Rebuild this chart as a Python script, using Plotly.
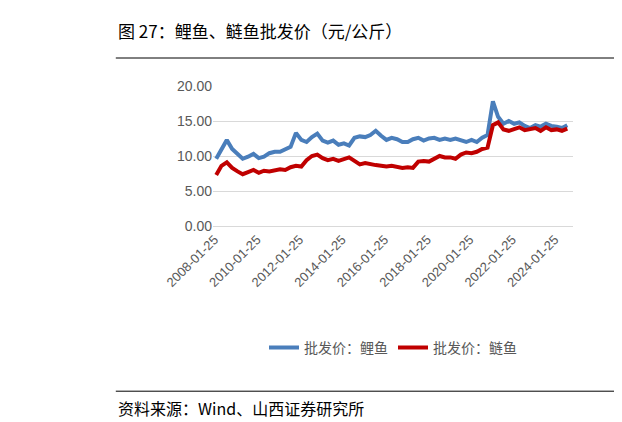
import pandas as pd
import plotly.graph_objects as go

# quarterly samples, 2008Q1 .. 2024Q4
dates = pd.date_range("2008-01-25", "2024-10-25", freq="3MS") + pd.Timedelta(days=24)
carp = [
    9.6, 11.0, 12.3, 11.0,  10.2, 9.6, 9.9, 10.3,  9.7, 9.9, 10.4, 10.6,
    10.6, 10.9, 11.3, 13.3,  12.3, 12.0, 12.7, 13.2,  12.2, 11.9, 12.2, 11.6,
    11.8, 11.5, 12.6, 12.8,  12.7, 13.0, 13.6, 12.9,  12.3, 12.6, 12.4, 12.0,
    12.0, 12.4, 12.6, 12.2,  12.5, 12.6, 12.3, 12.5,  12.3, 12.5, 12.2, 12.0,
    12.3, 12.0, 12.6, 13.0,  17.8, 15.6, 14.6, 15.0,  14.6, 14.8, 14.3, 14.0,
    14.4, 14.2, 14.6, 14.3,  14.2, 14.0, 14.4, 14.6,
]
silver = [
    7.3, 8.6, 9.1, 8.3,  7.8, 7.4, 7.7, 8.0,  7.6, 7.9, 7.8, 8.0,
    8.1, 8.0, 8.4, 8.6,  8.5, 9.4, 10.0, 10.2,  9.7, 9.4, 9.6, 9.3,
    9.6, 9.8, 9.3, 8.8,  9.0, 8.8, 8.7, 8.6,  8.5, 8.6, 8.4, 8.3,
    8.4, 8.3, 9.2, 9.3,  9.2, 9.6, 10.0, 9.8,  9.8, 9.6, 10.2, 10.5,
    10.4, 10.6, 11.0, 11.2,  14.4, 14.8, 13.8, 13.6,  13.8, 14.1, 13.7, 13.9,
    14.0, 13.6, 14.1, 13.7,  13.8, 13.6, 13.9, 14.2,
]
tick_text = ["2008-01-25", "2010-01-25", "2012-01-25", "2014-01-25",
             "2016-01-25", "2018-01-25", "2020-01-25", "2022-01-25", "2024-01-25"]
tick_vals = pd.to_datetime(tick_text)

font = "Noto Sans CJK SC"
fig = go.Figure()
fig.add_trace(go.Scatter(x=dates, y=carp, mode="lines", name="批发价：鲤鱼",
                         line=dict(color="#4a7ebb", width=4)))
fig.add_trace(go.Scatter(x=dates, y=silver, mode="lines", name="批发价：鲢鱼",
                         line=dict(color="#c00000", width=4)))

fig.update_layout(
    width=622, height=422, paper_bgcolor="white", plot_bgcolor="white",
    margin=dict(l=205, r=57, t=78, b=204),
    font=dict(family=font, color="#595959", size=13),
    showlegend=True,
    legend=dict(orientation="h", x=0.5, xanchor="center", y=-0.87, yanchor="middle",
                font=dict(size=14, color="#595959")),
    xaxis=dict(tickvals=tick_vals, ticktext=tick_text, tickangle=-45, automargin=False,
               showgrid=False, showline=True, linecolor="#d9d9d9",
               range=[pd.Timestamp("2008-01-01"), pd.Timestamp("2024-12-01")],
               tickfont=dict(size=13, family="Liberation Sans")),
    yaxis=dict(range=[0, 20], dtick=5, tickformat=".2f", gridcolor="#d9d9d9", automargin=False,
               zeroline=False, tickfont=dict(size=14, family="Liberation Sans")),
)
fig.add_annotation(text="图 27：鲤鱼、鲢鱼批发价（元/公斤）", xref="paper", yref="paper",
                   x=-0.27, y=1.4, xanchor="left", yanchor="middle", showarrow=False,
                   font=dict(family=font, size=17, color="black"))
fig.add_annotation(text="资料来源：Wind、山西证券研究所", xref="paper", yref="paper",
                   x=-0.27, y=-1.3, xanchor="left", yanchor="middle", showarrow=False,
                   font=dict(family=font, size=16, color="black"))
fig.add_shape(type="line", xref="paper", yref="paper", x0=-0.27, x1=1.12, y0=1.2, y1=1.2,
              line=dict(color="black", width=1))
fig.add_shape(type="line", xref="paper", yref="paper", x0=-0.27, x1=1.12, y0=-1.18, y1=-1.18,
              line=dict(color="black", width=1))
fig.write_html("out.html")
